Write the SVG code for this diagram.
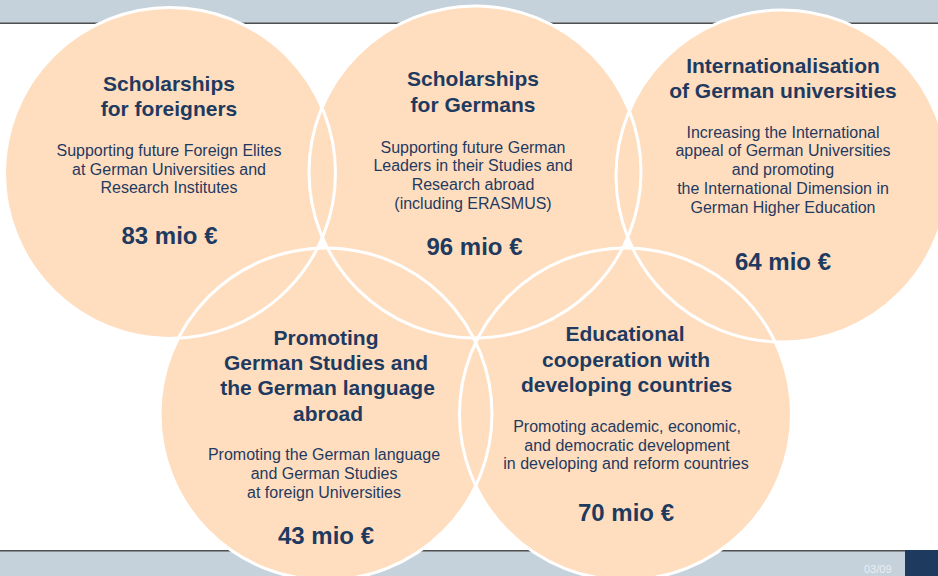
<svg xmlns="http://www.w3.org/2000/svg" xmlns:xlink="http://www.w3.org/1999/xlink" width="938" height="576" viewBox="0 0 938 576">
  <style>
    .bar { fill: #C5D2DC; }
    .rule { fill: #4F4F4F; }
    .disc { fill: #FFDEC0; stroke: none; }
    .ring { fill: none; stroke: #FFFFFF; stroke-width: 3; }
    text { font-family: "Liberation Sans", Arial, sans-serif; fill: #1F3A5F; text-anchor: middle; }
    .title { font-size: 21px; font-weight: bold; }
    .desc { font-size: 16px; }
    .amount { font-size: 24px; font-weight: bold; }
    .page { font-size: 11px; fill: #E9EEF3; text-anchor: start; }
  </style>
  <defs>
    <circle id="shape-c1" cx="170" cy="173" r="165.5"/>
    <circle id="shape-c2" cx="475" cy="172" r="166"/>
    <circle id="shape-c3" cx="782" cy="176" r="166"/>
    <circle id="shape-c4" cx="326" cy="414" r="166"/>
    <circle id="shape-c5" cx="625.5" cy="414" r="166"/>
  </defs>

  <g id="background">
    <rect class="bar" x="0" y="0" width="938" height="23"/>
    <rect class="rule" x="0" y="22.5" width="938" height="1.5"/>
    <rect class="bar" x="0" y="551" width="938" height="25"/>
    <rect class="rule" x="0" y="550" width="938" height="1.5"/>
    <rect x="905" y="550" width="33" height="26" fill="#1F3A5F"/>
    <text class="page" x="864" y="573">03/09</text>
  </g>

  <g id="discs">
    <use xlink:href="#shape-c1" class="disc"/>
    <use xlink:href="#shape-c2" class="disc"/>
    <use xlink:href="#shape-c3" class="disc"/>
    <use xlink:href="#shape-c4" class="disc"/>
    <use xlink:href="#shape-c5" class="disc"/>
  </g>

  <g id="connectors">
    <use xlink:href="#shape-c1" class="ring"/>
    <use xlink:href="#shape-c2" class="ring"/>
    <use xlink:href="#shape-c3" class="ring"/>
    <use xlink:href="#shape-c4" class="ring"/>
    <use xlink:href="#shape-c5" class="ring"/>
  </g>

  <g id="node-foreigners">
    <text class="title" x="169" y="91">Scholarships</text>
    <text class="title" x="169" y="116">for foreigners</text>
    <text class="desc" x="169" y="156">Supporting future Foreign Elites</text>
    <text class="desc" x="169" y="174.5">at German Universities and</text>
    <text class="desc" x="169" y="193">Research Institutes</text>
    <text class="amount" x="169.5" y="244">83 mio €</text>
  </g>

  <g id="node-germans">
    <text class="title" x="473" y="86">Scholarships</text>
    <text class="title" x="473" y="112">for Germans</text>
    <text class="desc" x="473" y="152.5">Supporting future German</text>
    <text class="desc" x="473" y="171">Leaders in their Studies and</text>
    <text class="desc" x="473" y="190">Research abroad</text>
    <text class="desc" x="473" y="208.5">(including ERASMUS)</text>
    <text class="amount" x="474.5" y="255">96 mio €</text>
  </g>

  <g id="node-internationalisation">
    <text class="title" x="783" y="72.5">Internationalisation</text>
    <text class="title" x="783" y="98">of German universities</text>
    <text class="desc" x="783" y="137.5">Increasing the International</text>
    <text class="desc" x="783" y="156">appeal of German Universities</text>
    <text class="desc" x="783" y="175">and promoting</text>
    <text class="desc" x="783" y="194">the International Dimension in</text>
    <text class="desc" x="783" y="212.5">German Higher Education</text>
    <text class="amount" x="783" y="270">64 mio €</text>
  </g>

  <g id="node-german-studies">
    <text class="title" x="326" y="345">Promoting</text>
    <text class="title" x="326" y="370">German Studies and</text>
    <text class="title" x="327.5" y="395">the German language</text>
    <text class="title" x="328" y="420.5">abroad</text>
    <text class="desc" x="324" y="460">Promoting the German language</text>
    <text class="desc" x="324" y="479">and German Studies</text>
    <text class="desc" x="324" y="497.5">at foreign Universities</text>
    <text class="amount" x="326" y="544">43 mio €</text>
  </g>

  <g id="node-development">
    <text class="title" x="625" y="341">Educational</text>
    <text class="title" x="626" y="366.5">cooperation with</text>
    <text class="title" x="626.5" y="391.5">developing countries</text>
    <text class="desc" x="627" y="431.5">Promoting academic, economic,</text>
    <text class="desc" x="627" y="450.5">and democratic development</text>
    <text class="desc" x="626" y="469">in developing and reform countries</text>
    <text class="amount" x="626" y="521">70 mio €</text>
  </g>
</svg>
